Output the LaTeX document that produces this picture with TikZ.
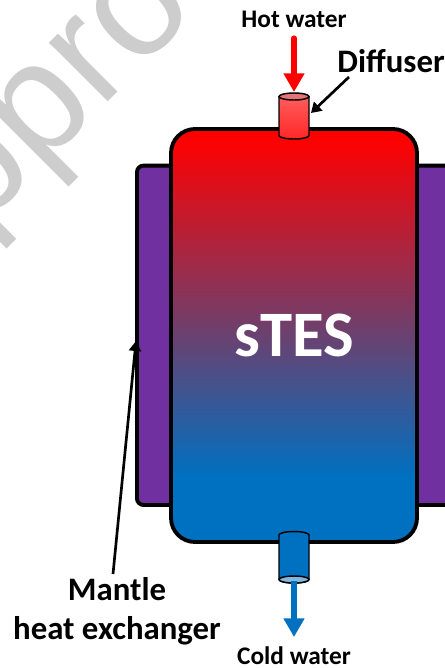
\documentclass[tikz,border=0pt]{standalone}
\usepackage{fontspec}
\setmainfont{Carlito}
\newfontfamily\markfont{Liberation Sans}
\usepackage{xcolor}
\usetikzlibrary{arrows.meta, shapes.geometric, positioning, calc}
\definecolor{hotred}{RGB}{255,0,0}
\definecolor{coldblue}{RGB}{0,112,192}
\definecolor{mantlepurple}{RGB}{112,48,160}
\definecolor{markgray}{RGB}{205,205,205}
\pgfdeclareverticalshading{tankshade}{100bp}{color(0bp)=(coldblue); color(33bp)=(coldblue); color(74bp)=(hotred); color(100bp)=(hotred)}
\tikzset{
  vessel/.style={draw=black, line width=2.9pt, rectangle},
  pipe/.style={draw=black, line width=1.1pt},
  flow/.style={line width=3.8pt, -{Triangle[length=14pt,width=15pt]}},
  pointer/.style={black, line width=2pt, -{Triangle[length=7.5pt,width=9pt]}},
  callout/.style={font=\bfseries\fontsize{24.6}{29}\selectfont, align=center, inner sep=0pt},
  inlet/.style={font=\bfseries\fontsize{19}{22}\selectfont, inner sep=0pt}
}
\begin{document}
\begin{tikzpicture}[x=0.75pt,y=-0.75pt]
  \useasboundingbox (0,0) rectangle (445,668);
  \clip (0,0) rectangle (445,668);
  \node[markgray, font=\markfont\fontsize{118}{118}\selectfont, rotate=45, inner sep=0pt] (mark) at (112,41) {Approved};

  \node[vessel, rounded corners=5pt, fill=mantlepurple, minimum width=300pt, minimum height=254.6pt, anchor=west] (mantle) at (135,335.3) {};
  \node[vessel, rounded corners=18pt, shading=tankshade, minimum width=184.5pt, minimum height=309.75pt] (tank) at (294,335.5) {};
  \node[white, font=\bfseries\fontsize{48.6}{58}\selectfont, inner sep=0pt] (stes) at (294,335) {sTES};

  % diffuser on top
  \draw[pipe, top color=red!62!white, bottom color=red!85!white] (279,97) -- (279,135.5) arc[start angle=180, end angle=0, x radius=15, y radius=3.5] -- (309,97) arc[start angle=0, end angle=-180, x radius=15, y radius=3.5] -- cycle;
  \draw[pipe, fill=red!50!white!90!black] (294,96.5) ellipse (15 and 3.5);
  % outlet at the bottom
  \draw[pipe, fill=coldblue] (279,535) -- (279,579.5) arc[start angle=180, end angle=0, x radius=15, y radius=3.5] -- (309,535) arc[start angle=0, end angle=-180, x radius=15, y radius=3.5] -- cycle;
  \draw[pipe, fill=coldblue!50!white] (294,579.5) ellipse (15 and 3.5);

  \node[inlet] (hot) at (294,19) {Hot water};
  \node[inlet] (cold) at (294,656) {Cold water};
  \node[callout] (difflabel) at (391,61) {Diffuser};
  \node[callout] (mantlelabel) at (117,611) {Mantle\\heat exchanger};

  \coordinate (hotstart) at (294,38);
  \coordinate (hotend) at (294,92);
  \coordinate (coldstart) at (294,581);
  \coordinate (coldend) at (294,637);
  \coordinate (pointstart) at (113,574);
  \coordinate (pointend) at (136,341);
  \coordinate (diffstart) at (349,77);
  \coordinate (diffend) at (311,113);

  \draw[flow, hotred, line cap=round] (hotstart) -- (hotend);
  \draw[flow, coldblue] (coldstart) -- (coldend);
  \draw[pointer] (diffstart) -- (diffend);
  \draw[pointer] (pointstart) -- (pointend);
\end{tikzpicture}
\end{document}
